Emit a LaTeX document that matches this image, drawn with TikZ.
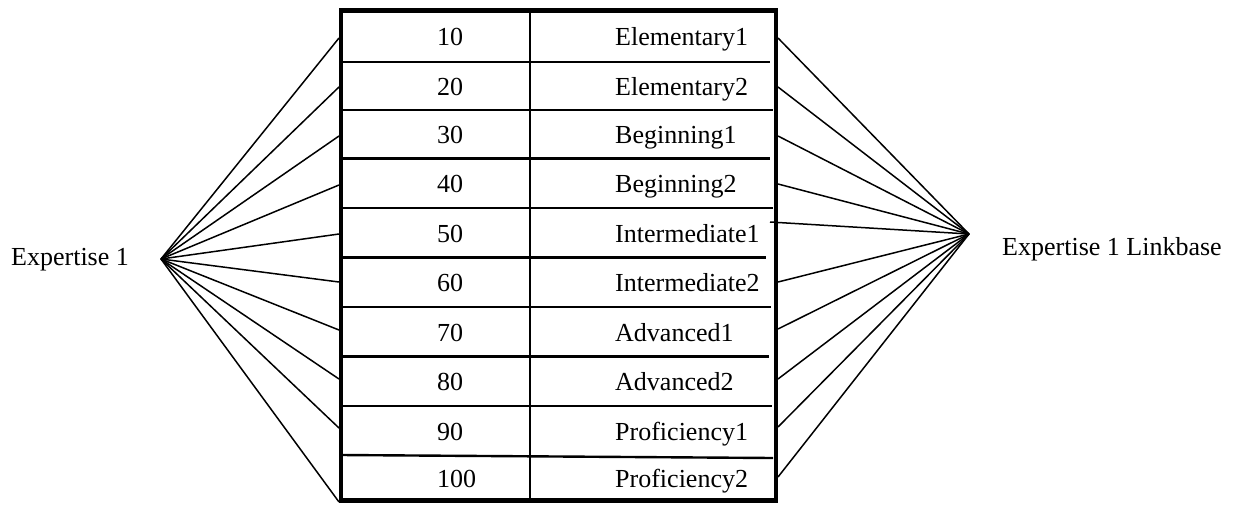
\documentclass[tikz,border=0pt]{standalone}
\usepackage{fontspec}
\setmainfont{Liberation Serif}
\begin{document}
\begin{tikzpicture}[x=1pt,y=-1pt,
  fan/.style={line width=1.5pt},
  rowrule/.style={line width=2.4pt},
  colrule/.style={line width=2pt},
  frame/.style={line width=4.6pt},
  lbl/.style={anchor=base west,inner sep=0pt,font=\fontsize{26}{30}\selectfont}]
\useasboundingbox (0,0) rectangle (1243,504);

% side labels and the apexes of the two fans
\node[lbl] (exp) at (11,265) {Expertise 1};
\node[lbl] (link) at (1002,255) {Expertise 1 Linkbase};
\coordinate (L) at (161,259);
\coordinate (R) at (969,234);

% row separators (right end varies a little)
\foreach \y/\xe in {62/770,110/773,158.5/770,208/773,257.5/766,307/771,356.5/769,406/772}
  \draw[rowrule] (341,\y) -- (\xe,\y);
\draw[rowrule] (341,455) -- (773,458);

% column divider
\draw[colrule] (530,10.5) -- (530,500.5);

% outer frame
\draw[frame] (341,10.5) rectangle (776,500.5);

% cell texts
\foreach \n/\t/\c [count=\i] in {10/Elementary1/36,20/Elementary2/86,30/Beginning1/134,
    40/Beginning2/183,50/Intermediate1/233,60/Intermediate2/282,70/Advanced1/332,
    80/Advanced2/381,90/Proficiency1/431,100/Proficiency2/478}{
  \node[lbl] (num\i) at (437,\c+9) {\n};
  \node[lbl] (name\i) at (615,\c+9) {\t};
}

% fan end points on the frame
\foreach \y [count=\i] in {38,87,136,185,234,282,330,379,428,502}
  \coordinate (l\i) at (339,\y);
\foreach \x/\y [count=\i] in {778/38,778/87,778/136,778/184,770/222,778/282,778/329,778/379,778/427,778/477}
  \coordinate (r\i) at (\x,\y);

% the two fans
\foreach \i in {1,...,10}{
  \draw[fan] (L) -- (l\i);
  \draw[fan] (R) -- (r\i);
}
\end{tikzpicture}
\end{document}
